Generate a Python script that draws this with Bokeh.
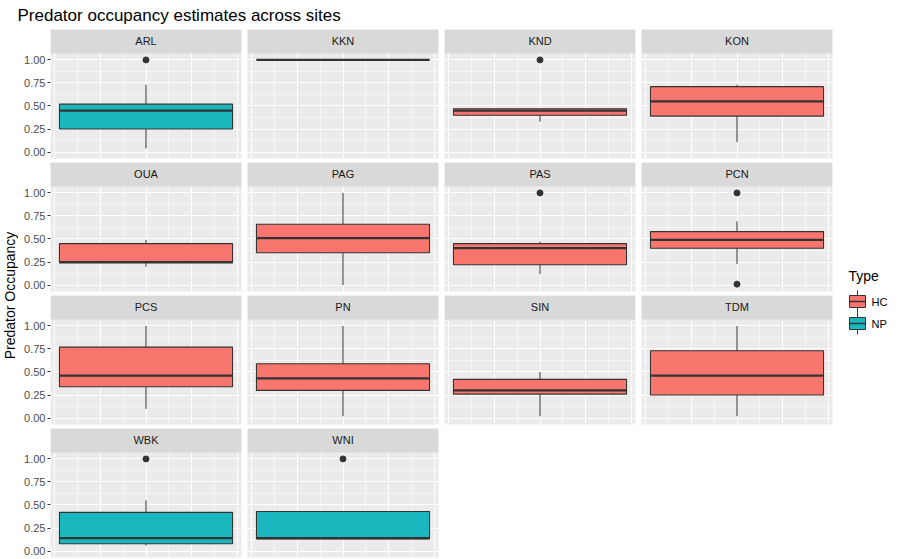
from bokeh.plotting import figure
from bokeh.layouts import gridplot, column, row
from bokeh.models import FixedTicker
from bokeh.embed import file_html
from bokeh.resources import INLINE
from bokeh.core.properties import value

FONT = "Liberation Sans"
COLOURS = {"HC": "#F8766D", "NP": "#1AB8BE"}

sites = ["ARL", "KKN", "KND", "KON", "OUA", "PAG", "PAS", "PCN",
         "PCS", "PN", "SIN", "TDM", "WBK", "WNI"]
types = ["NP", "HC", "HC", "HC", "HC", "HC", "HC", "HC",
         "HC", "HC", "HC", "HC", "NP", "NP"]
lower = [0.04, 1.00, 0.33, 0.11, 0.20, 0.00, 0.12, 0.23, 0.10, 0.02, 0.02, 0.02, 0.06, 0.13]
q1 = [0.25, 1.00, 0.40, 0.39, 0.24, 0.35, 0.22, 0.40, 0.34, 0.30, 0.26, 0.25, 0.08, 0.13]
median = [0.45, 1.00, 0.45, 0.55, 0.25, 0.51, 0.40, 0.49, 0.46, 0.43, 0.30, 0.46, 0.14, 0.14]
q3 = [0.52, 1.00, 0.47, 0.71, 0.45, 0.66, 0.45, 0.58, 0.77, 0.59, 0.42, 0.73, 0.42, 0.43]
upper = [0.73, 1.00, 0.47, 0.73, 0.49, 1.00, 0.47, 0.69, 1.00, 1.00, 0.50, 1.00, 0.55, 0.43]
outliers = [[1.0], [], [1.0], [], [], [], [1.0], [1.0, 0.01], [], [], [], [], [1.0], [1.0]]

y_ticks = [0.0, 0.25, 0.5, 0.75, 1.0]
y_minor = [0.125, 0.375, 0.625, 0.875]
x_ticks = [0.02, 0.26, 0.5, 0.74, 0.98]
x_minor = [0.14, 0.38, 0.62, 0.86]

NCOL = 4
FW, FH = 191, 129
STRIP_LO, STRIP_HI = 1.07, 1.33


def panel(i):
    col = i % NCOL
    p = figure(frame_width=FW, frame_height=FH, x_range=(0, 1),
               y_range=(-0.07, STRIP_HI), output_backend="svg",
               toolbar_location=None, min_border_left=32 if col == 0 else 0,
               min_border_right=6, min_border_top=0, min_border_bottom=4)
    p.background_fill_color = "#EBEBEB"
    p.outline_line_color = None
    p.xaxis.visible = False
    p.xgrid.ticker = FixedTicker(ticks=x_ticks, minor_ticks=x_minor)
    p.ygrid.ticker = FixedTicker(ticks=y_ticks, minor_ticks=y_minor)
    for g in (p.xgrid, p.ygrid):
        g.grid_line_color = "white"
        g.grid_line_width = 1.1
        g.minor_grid_line_color = "white"
        g.minor_grid_line_width = 0.5
    if col == 0:
        p.yaxis.ticker = FixedTicker(ticks=y_ticks)
        p.yaxis.major_label_overrides = {t: f"{t:.2f}" for t in y_ticks}
        p.yaxis.axis_line_color = None
        p.yaxis.minor_tick_line_color = None
        p.yaxis.major_tick_in = 0
        p.yaxis.major_tick_out = 3
        p.yaxis.major_tick_line_color = "#333333"
        p.yaxis.major_label_text_font = FONT
        p.yaxis.major_label_text_font_size = "11px"
        p.yaxis.major_label_text_color = "#4D4D4D"
        p.yaxis.major_label_standoff = 2
    else:
        p.yaxis.visible = False

    c = COLOURS[types[i]]
    p.segment(0.5, lower[i], 0.5, q1[i], line_color="#333333", line_width=1)
    p.segment(0.5, q3[i], 0.5, upper[i], line_color="#333333", line_width=1)
    p.quad(left=0.047, right=0.953, bottom=q1[i], top=q3[i], fill_color=c,
           line_color="#333333", line_width=1.1)
    p.segment(0.047, median[i], 0.953, median[i], line_color="#333333", line_width=2.2)
    if outliers[i]:
        p.scatter([0.5] * len(outliers[i]), outliers[i], size=6, color="#333333")
    # facet strip
    p.quad(left=0, right=1, bottom=STRIP_LO, top=STRIP_HI, fill_color="#D9D9D9", line_color=None)
    p.text([0.5], [(STRIP_LO + STRIP_HI) / 2], text=[sites[i]], text_align="center",
           text_baseline="middle", text_font=value(FONT), text_font_size="11px",
           text_color="#1A1A1A")
    return p


panels = [panel(i) for i in range(len(sites))]
cells = panels + [None] * (NCOL * 4 - len(panels))
grid = gridplot([cells[r * NCOL:(r + 1) * NCOL] for r in range(4)], toolbar_location=None)

GH = 4 * (FH + 4)

ylab = figure(width=18, height=GH, x_range=(0, 1), y_range=(0, 1), output_backend="svg",
              toolbar_location=None, min_border=0)
ylab.axis.visible = False
ylab.grid.visible = False
ylab.outline_line_color = None
ylab.text([0.55], [0.5], text=["Predator Occupancy"], angle=1.5708, text_align="center",
          text_baseline="middle", text_font=value(FONT), text_font_size="14px", text_color="black")

LW = 65
leg = figure(width=LW, height=GH, x_range=(0, LW), y_range=(GH, 0), output_backend="svg",
             toolbar_location=None, min_border=0)
leg.axis.visible = False
leg.grid.visible = False
leg.outline_line_color = None
leg_types = ["HC", "NP"]
leg.text([10], [246], text=["Type"], text_baseline="middle", text_font=value(FONT),
         text_font_size="14px", text_color="black")
for k, t in enumerate(leg_types):
    y0 = 262 + k * 22
    leg.segment(19, y0 - 1, 19, y0 + 21, line_color="#333333")
    leg.quad(left=11, right=27, bottom=y0 + 16, top=y0 + 4, fill_color=COLOURS[t],
             line_color="#333333")
    leg.segment(11, y0 + 10, 27, y0 + 10, line_color="#333333", line_width=1.5)
    leg.text([33], [y0 + 10], text=[t], text_baseline="middle", text_font=value(FONT),
             text_font_size="11px", text_color="black")

title = figure(width=903, height=29, x_range=(0, 903), y_range=(0, 29), output_backend="svg",
               toolbar_location=None, min_border=0)
title.axis.visible = False
title.grid.visible = False
title.outline_line_color = None
title.text([17], [14], text=["Predator occupancy estimates across sites"], text_baseline="middle",
           text_font=value(FONT), text_font_size="17px", text_color="black")

page = column(title, row(ylab, grid, leg))
open("out.html", "w").write(file_html(page, INLINE))
